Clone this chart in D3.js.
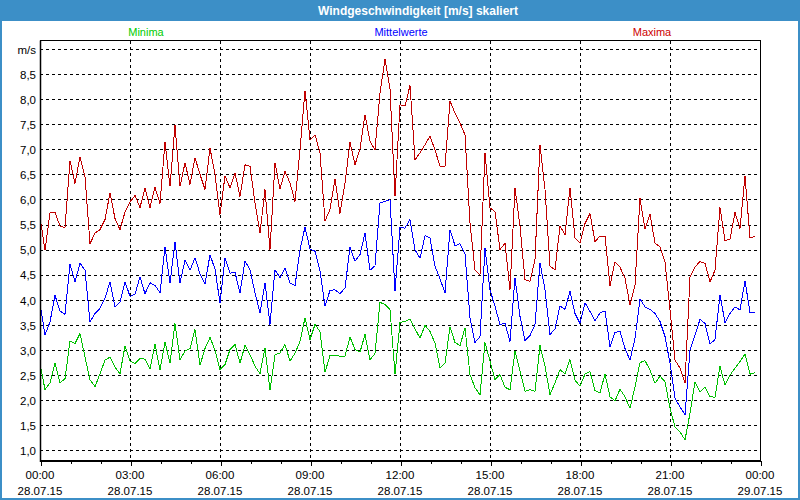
<!DOCTYPE html>
<html><head><meta charset="utf-8">
<script src="https://cdn.jsdelivr.net/npm/d3@7/dist/d3.min.js"></script>
<style>
body{margin:0;background:#fff;}
text{font-family:"Liberation Sans",Arial,sans-serif;}
</style>
</head><body>
<svg id="chart" width="800" height="500"></svg>
<script>
// ---------- data ----------
const chartTitle = "Windgeschwindigkeit [m/s] skaliert";
const seriesNames = ["Minima", "Mittelwerte", "Maxima"];
const startTime = new Date(2015, 6, 28, 0, 0, 0);
const endTime = new Date(2015, 6, 29, 0, 0, 0);
const stepMinutes = 10;
const yUnitLabel = "m/s";
const yTickValues = [1.0, 1.5, 2.0, 2.5, 3.0, 3.5, 4.0, 4.5, 5.0, 5.5, 6.0, 6.5, 7.0, 7.5, 8.0, 8.5, 9.0];

const minima = [
2.73,2.21,2.35,2.74,2.35,2.43,3.18,3.13,3.33,2.86,
2.41,2.27,2.53,2.80,2.86,2.66,2.53,3.08,2.78,2.73,
2.83,2.82,2.63,3.12,2.60,3.16,2.74,3.53,2.81,2.98,
3.03,3.41,2.70,3.03,3.25,3.00,2.61,2.71,3.01,3.11,
2.74,3.09,2.91,2.68,2.53,3.04,2.21,2.91,2.94,3.11,
2.78,2.94,3.17,3.64,3.21,3.51,3.37,2.56,2.89,2.89,
2.88,2.88,3.26,3.01,2.96,3.31,2.81,2.93,3.95,3.91,
3.81,2.52,3.55,3.57,3.62,3.42,3.24,3.49,3.37,3.14,
2.64,2.74,3.46,3.15,3.09,3.44,2.51,2.25,2.11,3.15,
2.78,2.41,2.51,2.26,2.21,2.98,2.58,2.18,2.21,2.18,
3.09,2.68,2.11,2.35,2.61,2.53,2.81,2.40,2.28,2.52,
2.57,2.19,2.15,2.52,2.07,1.99,2.22,2.07,1.84,2.27,
2.75,2.79,2.60,2.34,2.48,2.37,1.84,1.47,1.37,1.21,
1.74,2.37,2.17,2.26,2.07,2.06,2.68,2.30,2.50,2.64,
2.77,2.92,2.52,2.55];

const mittelwerte = [
3.93,3.30,3.56,4.09,3.78,3.71,4.71,4.36,4.73,4.59,
3.56,3.73,3.83,4.03,4.36,3.86,3.96,4.36,4.07,4.11,
4.46,4.12,4.34,4.29,4.14,5.05,4.34,5.15,4.34,4.79,
4.59,4.84,4.52,4.31,4.90,4.61,3.94,4.83,4.53,4.55,
4.14,4.77,4.60,4.14,3.74,4.34,3.51,4.60,4.44,4.64,
4.34,4.28,5.00,5.45,5.01,4.97,4.57,3.87,4.19,4.20,
4.12,4.24,5.05,4.77,4.90,5.33,4.59,4.68,5.93,5.96,
6.00,4.18,5.44,5.43,5.60,5.00,4.83,5.28,5.23,4.67,
4.42,4.14,5.40,5.08,5.12,4.92,3.64,3.15,3.27,5.03,
4.20,3.87,3.51,3.53,3.17,4.44,3.67,3.19,3.29,3.51,
4.74,4.20,3.31,3.42,3.88,3.81,4.17,3.73,3.53,3.94,
3.77,3.58,3.74,3.78,3.07,3.35,3.37,3.03,2.80,3.23,
4.02,3.86,3.81,3.73,3.57,3.27,2.74,2.04,1.87,1.71,
3.00,3.30,3.61,3.53,3.12,3.21,4.10,3.55,3.73,3.86,
3.80,4.38,3.75,3.75];

const maxima = [
5.65,4.99,5.73,5.74,5.47,5.44,6.77,6.32,6.85,6.45,
5.12,5.33,5.40,5.60,6.13,5.62,5.40,5.75,5.95,6.08,
5.84,6.23,5.84,6.24,5.92,7.14,6.26,7.48,6.26,6.73,
6.30,6.83,6.50,6.20,7.02,6.50,5.70,6.47,6.23,6.53,
6.06,6.69,6.66,5.93,5.33,6.20,5.00,6.73,6.21,6.56,
6.33,5.96,6.99,8.17,7.19,7.29,6.93,5.57,5.80,6.40,
5.72,6.33,7.14,6.69,7.01,7.69,7.16,6.99,8.12,8.79,
8.20,6.06,7.89,7.86,8.27,6.79,6.93,7.09,7.26,6.99,
6.66,6.66,7.96,7.72,7.52,7.29,5.53,4.60,4.50,6.93,
5.83,5.76,5.00,5.13,4.20,6.23,5.47,4.40,4.37,4.80,
7.09,6.20,4.67,4.60,5.47,5.30,6.23,5.23,5.13,5.52,
5.72,5.16,5.27,5.27,4.28,4.76,4.65,4.43,3.90,4.30,
6.02,5.42,5.71,5.13,5.06,4.76,3.80,2.80,2.64,2.34,
4.46,4.66,4.76,4.73,4.36,4.59,5.84,5.18,5.21,5.74,
5.42,6.47,5.23,5.27];

// ---------- styles / layout ----------
const W = 800, H = 500;
const frameColor = "#3c8fc7";
const colors = {Minima: "#00c000", Mittelwerte: "#0000ff", Maxima: "#c00000"};
const legendColors = {Minima: "#00cc00", Mittelwerte: "#0000ff", Maxima: "#cc0000"};
const plot = {left: 40, right: 760, top: 40.5, bottom: 460.5};

const svg = d3.select("#chart");

svg.append("rect").attr("x", 0).attr("y", 0).attr("width", W).attr("height", H).attr("fill", "#ffffff");
// title bar
svg.append("rect").attr("x", 0).attr("y", 0).attr("width", W).attr("height", 21).attr("fill", frameColor);
svg.append("text").attr("x", 418).attr("y", 15).attr("text-anchor", "middle")
  .attr("fill", "#ffffff").attr("font-weight", "bold").attr("font-size", "12px").text(chartTitle);
// outer border
svg.append("rect").attr("x", 1).attr("y", 1).attr("width", W - 2).attr("height", H - 2)
  .attr("fill", "none").attr("stroke", frameColor).attr("stroke-width", 2);

// scales
const x = d3.scaleTime().domain([startTime, endTime]).range([plot.left, plot.right]);
const y = d3.scaleLinear().domain([0.8, 9.167]).range([plot.bottom, plot.top]);
const crisp = v => Math.round(v) + 0.5;

// grid
const g = svg.append("g");
g.selectAll("line.hgrid").data(yTickValues).join("line").attr("class", "hgrid")
  .attr("x1", plot.left).attr("x2", plot.right)
  .attr("y1", d => crisp(y(d))).attr("y2", d => crisp(y(d)))
  .attr("stroke", "#000").attr("stroke-width", 1).attr("stroke-dasharray", "3,3")
  .attr("shape-rendering", "crispEdges");
const vTicks = d3.timeHour.every(3).range(startTime, d3.timeMinute.offset(endTime, 1));
g.selectAll("line.vgrid").data(vTicks.filter(d => d > startTime && d < endTime)).join("line").attr("class", "vgrid")
  .attr("x1", d => crisp(x(d))).attr("x2", d => crisp(x(d)))
  .attr("y1", plot.top).attr("y2", plot.bottom)
  .attr("stroke", "#000").attr("stroke-width", 1).attr("stroke-dasharray", "3,3")
  .attr("shape-rendering", "crispEdges");

// series
const seriesData = {Minima: minima, Mittelwerte: mittelwerte, Maxima: maxima};
const line = d3.line()
  .x((d, i) => x(d3.timeMinute.offset(startTime, i * stepMinutes)))
  .y(d => y(d));
seriesNames.forEach(name => {
  svg.append("path").datum(seriesData[name])
    .attr("d", line).attr("fill", "none")
    .attr("stroke", colors[name]).attr("stroke-width", 1)
    .attr("shape-rendering", "crispEdges");
});

// frame
svg.append("rect").attr("x", plot.left + 0.5).attr("y", plot.top).attr("width", plot.right - plot.left)
  .attr("height", plot.bottom - plot.top).attr("fill", "none").attr("stroke", "#000").attr("stroke-width", 1)
  .attr("shape-rendering", "crispEdges");
svg.append("line").attr("x1", plot.left).attr("x2", plot.right + 1).attr("y1", 461).attr("y2", 461)
  .attr("stroke", "#000").attr("stroke-width", 2);
svg.append("line").attr("x1", plot.left + 0.5).attr("x2", plot.left + 0.5).attr("y1", plot.top).attr("y2", 462)
  .attr("stroke", "#000").attr("stroke-width", 1.5);

// x axis ticks & labels
const xAxis = d3.axisBottom(x)
  .ticks(d3.timeHour.every(1))
  .tickSize(4)
  .tickFormat("");
const xa = svg.append("g").attr("transform", "translate(0.5,461)").call(xAxis);
xa.select(".domain").remove();
xa.selectAll(".tick line").attr("stroke", "#000").attr("shape-rendering", "crispEdges")
  .attr("y2", d => d.getHours() % 3 === 0 ? 5 : 3);

const fmtTime = d3.timeFormat("%H:%M");
const fmtDate = d3.timeFormat("%d.%m.%y");
const xl = svg.append("g");
xl.selectAll("text.t").data(vTicks).join("text").attr("class", "t")
  .attr("x", d => x(d)).attr("y", 479).attr("text-anchor", "middle")
  .attr("font-size", "11.5px").attr("fill", "#000").text(d => fmtTime(d));
xl.selectAll("text.d").data(vTicks).join("text").attr("class", "d")
  .attr("x", d => x(d)).attr("y", 495).attr("text-anchor", "middle")
  .attr("font-size", "11.5px").attr("fill", "#000").text(d => fmtDate(d));

// y axis labels
const yAxis = d3.axisLeft(y).tickValues(yTickValues).tickSize(0).tickPadding(4)
  .tickFormat(d => d === 9.0 ? yUnitLabel : d3.format(".1f")(d).replace(".", ","));
const ya = svg.append("g").attr("transform", `translate(${plot.left},0.5)`).call(yAxis);
ya.select(".domain").remove();
ya.selectAll("text").attr("font-size", "11.5px").attr("fill", "#000")
  .style("font-family", '"Liberation Sans", Arial, sans-serif');

// legend
const legendX = {Minima: 146, Mittelwerte: 401, Maxima: 652};
seriesNames.forEach(name => {
  svg.append("text").attr("x", legendX[name]).attr("y", 36).attr("text-anchor", "middle")
    .attr("font-size", "11px").attr("fill", legendColors[name]).text(name);
});
</script>
</body></html>
